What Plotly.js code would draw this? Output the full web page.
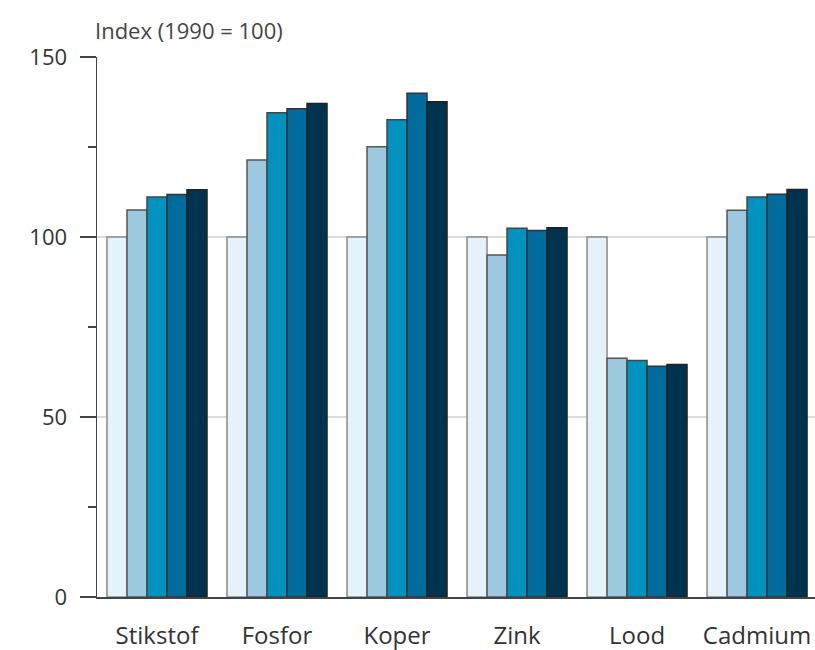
<!DOCTYPE html>
<html>
<head>
<meta charset="utf-8">
<script src="https://cdn.plot.ly/plotly-3.0.1.min.js"></script>
<style>html,body{margin:0;padding:0;background:#fff}#chart{width:815px;height:650px}</style>
</head>
<body>
<div id="chart"></div>
<script>
const categories = ["Stikstof", "Fosfor", "Koper", "Zink", "Lood", "Cadmium"];
const series1 = [100, 100, 100, 100, 100, 100];
const series2 = [107.5, 121.4, 125.1, 95.0, 66.3, 107.4];
const series3 = [111.1, 134.5, 132.6, 102.4, 65.7, 111.1];
const series4 = [111.8, 135.6, 139.9, 101.8, 64.1, 111.9];
const series5 = [113.1, 137.1, 137.6, 102.6, 64.6, 113.2];
const seriesNames = ["s1", "s2", "s3", "s4", "s5"];
const yTickVals = [0, 50, 100, 150];
const yMinorTickVals = [25, 75, 125];
const titleText = "Index (1990 = 100)";

const colors = ["#e4f2fa", "#9dc9e0", "#0093c0", "#006b9d", "#00344e"];
const outlines = ["#8a8a8a", "#555", "#444", "#333", "#222"];
const allSeries = [series1, series2, series3, series4, series5];

const traces = allSeries.map((vals, i) => ({
  type: "bar",
  name: seriesNames[i],
  x: categories,
  y: vals,
  marker: {color: colors[i], line: {color: outlines[i], width: 1.5}},
  hoverinfo: "x+y"
}));

const font = "'Open Sans', 'Noto Sans', sans-serif";
const layout = {
  width: 815, height: 650,
  margin: {l: 97, r: 0, t: 57, b: 53},
  barmode: "group",
  bargap: 0.1667,
  bargroupgap: 0,
  showlegend: false,
  paper_bgcolor: "#fff",
  plot_bgcolor: "#fff",
  font: {family: font, color: "#333"},
  xaxis: {
    type: "category",
    range: [-0.5, 5.483],
    showline: true, linecolor: "#444", linewidth: 1.5,
    ticks: "outside", ticklen: 17, tickcolor: "rgba(0,0,0,0)",
    tickfont: {size: 24, color: "#333", family: font},
    showgrid: false, zeroline: false
  },
  yaxis: {
    range: [0, 150],
    tickvals: yTickVals,
    ticktext: yTickVals.map(String),
    showline: true, linecolor: "#444", linewidth: 1.5,
    ticks: "outside", ticklen: 16, tickcolor: "#444", tickwidth: 1.2,
    minor: {tickvals: yMinorTickVals, ticks: "outside", ticklen: 8, tickcolor: "#444", tickwidth: 1.2, showgrid: false},
    ticklabelstandoff: 8,
    tickfont: {size: 22, color: "#333", family: font},
    showgrid: true, gridcolor: "#dcdcdc", gridwidth: 1.2,
    zeroline: false
  },
  annotations: [{
    text: titleText, xref: "paper", yref: "paper", x: 0, y: 1,
    xanchor: "left", yanchor: "bottom", yshift: 10, xshift: -4, showarrow: false,
    font: {size: 22, color: "#444", family: font}
  }]
};

Plotly.newPlot("chart", traces, layout, {displayModeBar: false, staticPlot: true});
</script>
</body>
</html>
